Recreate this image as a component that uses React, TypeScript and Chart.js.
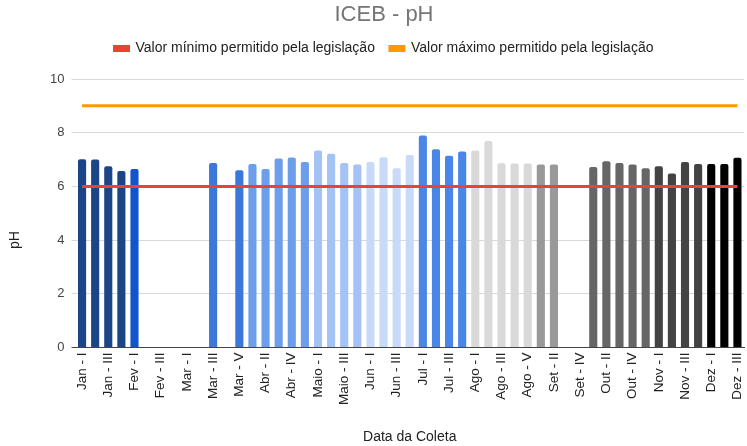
import React, { useEffect, useRef } from 'react';
import { Chart, registerables } from 'chart.js';

Chart.register(...registerables);

const chartTitle = 'ICEB - pH';
const xAxisTitle = 'Data da Coleta';
const yAxisTitle = 'pH';
const minLabel = 'Valor mínimo permitido pela legislação';
const maxLabel = 'Valor máximo permitido pela legislação';

const categories = [
  'Jan - I', 'Jan - II', 'Jan - III', 'Jan - IV',
  'Fev - I', 'Fev - II', 'Fev - III', 'Fev - IV',
  'Mar - I', 'Mar - II', 'Mar - III', 'Mar - IV', 'Mar - V',
  'Abr - I', 'Abr - II', 'Abr - III', 'Abr - IV', 'Abr - V',
  'Maio - I', 'Maio - II', 'Maio - III', 'Maio - IV',
  'Jun - I', 'Jun - II', 'Jun - III', 'Jun - IV',
  'Jul - I', 'Jul - II', 'Jul - III', 'Jul - IV',
  'Ago - I', 'Ago - II', 'Ago - III', 'Ago - IV', 'Ago - V',
  'Set - I', 'Set - II', 'Set - III', 'Set - IV',
  'Out - I', 'Out - II', 'Out - III', 'Out - IV', 'Out - V',
  'Nov - I', 'Nov - II', 'Nov - III', 'Nov - IV',
  'Dez - I', 'Dez - II', 'Dez - III',
];

const phValues: (number | null)[] = [
  7.01, 7.0, 6.75, 6.57,
  6.65, null, null, null,
  null, null, 6.87, null, 6.6,
  6.83, 6.65, 7.04, 7.08, 6.91,
  7.34, 7.22, 6.87, 6.82,
  6.91, 7.09, 6.68, 7.17,
  7.9, 7.38, 7.14, 7.3,
  7.34, 7.69, 6.86, 6.85, 6.85,
  6.82, 6.82, null, null,
  6.72, 6.94, 6.87, 6.82, 6.68,
  6.75, 6.48, 6.91, 6.83,
  6.83, 6.83, 7.07,
];

const minLimit = 6;
const maxLimit = 9;
const yMin = 0;
const yMax = 10;
const yStep = 2;

const monthColors: Record<string, string> = {
  Jan: '#1c4587',
  Fev: '#1155cc',
  Mar: '#3c78d8',
  Abr: '#6d9eeb',
  Maio: '#a4c2f4',
  Jun: '#c9daf8',
  Jul: '#4a86e8',
  Ago: '#d9d9d9',
  Set: '#999999',
  Out: '#666666',
  Nov: '#434343',
  Dez: '#000000',
};

const FONT = "'Liberation Sans', Arial, sans-serif";

export default function App() {
  const canvasRef = useRef<HTMLCanvasElement | null>(null);

  useEffect(() => {
    document.body.style.margin = '0';
    const canvas = canvasRef.current;
    if (!canvas) return;
    Chart.defaults.font.family = FONT;

    const barColors = categories.map((c) => monthColors[c.split(' - ')[0]]);

    const yTitlePlugin = {
      id: 'yTitlePlugin',
      afterDraw(chart: any) {
        const ctx = chart.ctx;
        ctx.save();
        ctx.translate(15, 240);
        ctx.rotate(-Math.PI / 2);
        ctx.textAlign = 'center';
        ctx.textBaseline = 'middle';
        ctx.font = `14px ${FONT}`;
        ctx.fillStyle = '#222222';
        ctx.fillText(yAxisTitle, 0, 0);
        ctx.restore();
      },
    };

    const padLeft = 24;

    const chart = new Chart(canvas, {
      type: 'bar',
      data: {
        labels: categories,
        datasets: [
          {
            type: 'line',
            label: minLabel,
            data: categories.map(() => minLimit),
            borderColor: '#ea4335',
            backgroundColor: '#ea4335',
            borderWidth: 3,
            pointRadius: 0,
            xAxisID: 'x',
            yAxisID: 'y',
          } as any,
          {
            type: 'line',
            label: maxLabel,
            data: categories.map(() => maxLimit),
            borderColor: '#ff9900',
            backgroundColor: '#ff9900',
            borderWidth: 3,
            pointRadius: 0,
            xAxisID: 'x',
            yAxisID: 'y',
          } as any,
          {
            type: 'bar',
            label: 'pH',
            data: phValues,
            backgroundColor: barColors,
            borderRadius: 2,
            categoryPercentage: 1,
            barPercentage: 0.62,
            xAxisID: 'x',
            yAxisID: 'y',
          } as any,
        ],
      },
      options: {
        responsive: false,
        animation: false,
        layout: { padding: { left: padLeft, right: 3, top: 0, bottom: 0 } },
        plugins: {
          title: {
            display: true,
            text: chartTitle,
            color: '#757575',
            font: { size: 22, weight: 'normal', family: FONT },
            padding: { top: 2, bottom: -2 },
          },
          legend: {
            display: true,
            position: 'top',
            labels: {
              boxWidth: 14,
              boxHeight: 4,
              padding: 15,
              color: '#222222',
              font: { size: 14, family: FONT },
              filter: (item: any) => item.datasetIndex < 2,
            },
          },
          tooltip: { enabled: false },
        },
        scales: {
          x: {
            type: 'category',
            position: 'bottom',
            z: 1,
            grid: { display: false, drawTicks: false },
            border: { display: true, color: '#444444' },
            ticks: {
              autoSkip: false,
              maxRotation: 90,
              minRotation: 90,
              padding: 5,
              color: '#222222',
              font: { size: 13.5, family: FONT },
              callback: (_v: any, i: number) => (i % 2 === 0 ? categories[i] : ''),
            },
            title: {
              display: true,
              text: xAxisTitle,
              color: '#222222',
              font: { size: 14, family: FONT },
              padding: { top: 4, bottom: 0.6 },
            },
            afterFit: (s: any) => {
              s.height = 98.5;
              s.paddingLeft = 0;
              s.paddingRight = 0;
            },
          },
          xTop: {
            type: 'linear',
            position: 'top',
            display: true,
            grid: { display: false, drawTicks: false },
            border: { display: false },
            ticks: { display: false },
            afterFit: (s: any) => {
              s.height = 13.6;
              s.paddingLeft = 0;
              s.paddingRight = 0;
            },
          },
          y: {
            type: 'linear',
            min: yMin,
            max: yMax,
            ticks: {
              stepSize: yStep,
              padding: 7,
              color: '#444444',
              font: { size: 13, family: FONT },
            },
            grid: {
              drawTicks: true,
              tickLength: 4,
              color: (ctx: any) => (ctx.tick && ctx.tick.value === 0 ? '#444444' : '#d9d9d9'),
            },
            border: { display: false },
            afterFit: (s: any) => {
              s.width = 75.5 - padLeft;
            },
          },
        },
      } as any,
      plugins: [yTitlePlugin],
    });

    return () => chart.destroy();
  }, []);

  return (
    <div style={{ width: 747, height: 446 }}>
      <canvas ref={canvasRef} width={747} height={446} style={{ display: 'block' }} />
    </div>
  );
}
